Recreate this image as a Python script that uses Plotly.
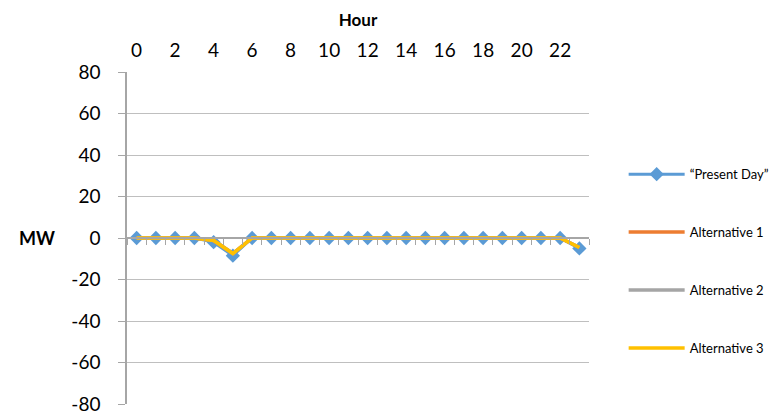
import plotly.graph_objects as go

hours = list(range(24))
present_day = [0, 0, 0, 0, -2, -8.5, 0, 0, 0, 0, 0, 0, 0, 0, 0, 0, 0, 0, 0, 0, 0, 0, 0, -5]
alternative_1 = [0, 0, 0, 0, -1.2, -7.5, 0, 0, 0, 0, 0, 0, 0, 0, 0, 0, 0, 0, 0, 0, 0, 0, 0, -4.6]
alternative_2 = [0, 0, 0, 0, -1.2, -7.5, 0, 0, 0, 0, 0, 0, 0, 0, 0, 0, 0, 0, 0, 0, 0, 0, 0, -4.6]
alternative_3 = [0, 0, 0, 0, -1.2, -7.5, 0, 0, 0, 0, 0, 0, 0, 0, 0, 0, 0, 0, 0, 0, 0, 0, 0, -4.6]
y_ticks = [-80, -60, -40, -20, 0, 20, 40, 60, 80]
x_tick_labels = list(range(0, 24, 2))

FONT = "Lato"
AXIS = "#A6A6A6"
GRID = "#BFBFBF"

fig = go.Figure()
fig.add_trace(go.Scatter(x=hours, y=present_day, name="\u201cPresent Day\u201d",
                         mode="lines+markers", line=dict(color="#5B9BD5", width=3),
                         marker=dict(symbol="diamond", size=11, color="#5B9BD5"),
                         legendgroup="a"))
fig.add_trace(go.Scatter(x=hours, y=alternative_1, name="Alternative 1", mode="lines",
                         line=dict(color="#ED7D31", width=3.5), legendgroup="b"))
fig.add_trace(go.Scatter(x=hours, y=alternative_2, name="Alternative 2", mode="lines",
                         line=dict(color="#A5A5A5", width=3.5), legendgroup="c"))
fig.add_trace(go.Scatter(x=hours, y=alternative_3, name="Alternative 3", mode="lines",
                         line=dict(color="#FFC000", width=3.5), legendgroup="d"))
# invisible trace to carry the zero-crossing axis with ticks
fig.add_trace(go.Scatter(x=hours, y=[None] * 24, xaxis="x2", showlegend=False,
                         hoverinfo="skip", mode="lines"))

fig.update_layout(
    width=782, height=420,
    paper_bgcolor="white", plot_bgcolor="white",
    margin=dict(l=127, r=193, t=72, b=16, autoexpand=False),
    font=dict(family=FONT, color="#000000"),
    showlegend=True,
    legend=dict(x=1.075, xanchor="left", y=0.43, yanchor="middle",
                font=dict(size=13, family=FONT), tracegroupgap=38,
                itemwidth=56, bgcolor="rgba(0,0,0,0)"),
    xaxis=dict(range=[-0.5, 23.5], side="top", tickmode="array", automargin=False,
               tickvals=x_tick_labels, ticktext=[str(v) for v in x_tick_labels],
               showgrid=False, zeroline=False, showline=False, ticks="",
               tickfont=dict(size=19, family=FONT), ticklabelstandoff=10,
               title=dict(text="<b>Hour</b>", font=dict(size=17, family=FONT), standoff=7)),
    xaxis2=dict(range=[-0.5, 23.5], overlaying="x", anchor="free", position=0.5,
                matches="x", tickmode="linear", tick0=-0.5, dtick=1, automargin=False,
                ticks="outside", ticklen=6, tickcolor=AXIS, tickwidth=1,
                showticklabels=False, showgrid=False, zeroline=False,
                showline=True, linecolor=AXIS, linewidth=1.5),
    yaxis=dict(range=[-80, 80], tickmode="array", tickvals=y_ticks, automargin=False,
               ticktext=[str(v) for v in y_ticks],
               showgrid=True, gridcolor=GRID, gridwidth=1, zeroline=False,
               showline=True, linecolor=AXIS, linewidth=1.5,
               ticks="outside", ticklen=7, tickcolor=AXIS,
               tickfont=dict(size=19, family=FONT), ticklabelstandoff=14),
)
fig.add_annotation(text="<b>MW</b>", xref="paper", yref="y", x=-0.152, y=0,
                   xanchor="right", yanchor="middle", showarrow=False,
                   font=dict(size=18, family=FONT))

fig.write_html("out.html", config={"displayModeBar": False},
               post_script="document.body.style.margin='0';document.body.style.overflow='hidden';")
